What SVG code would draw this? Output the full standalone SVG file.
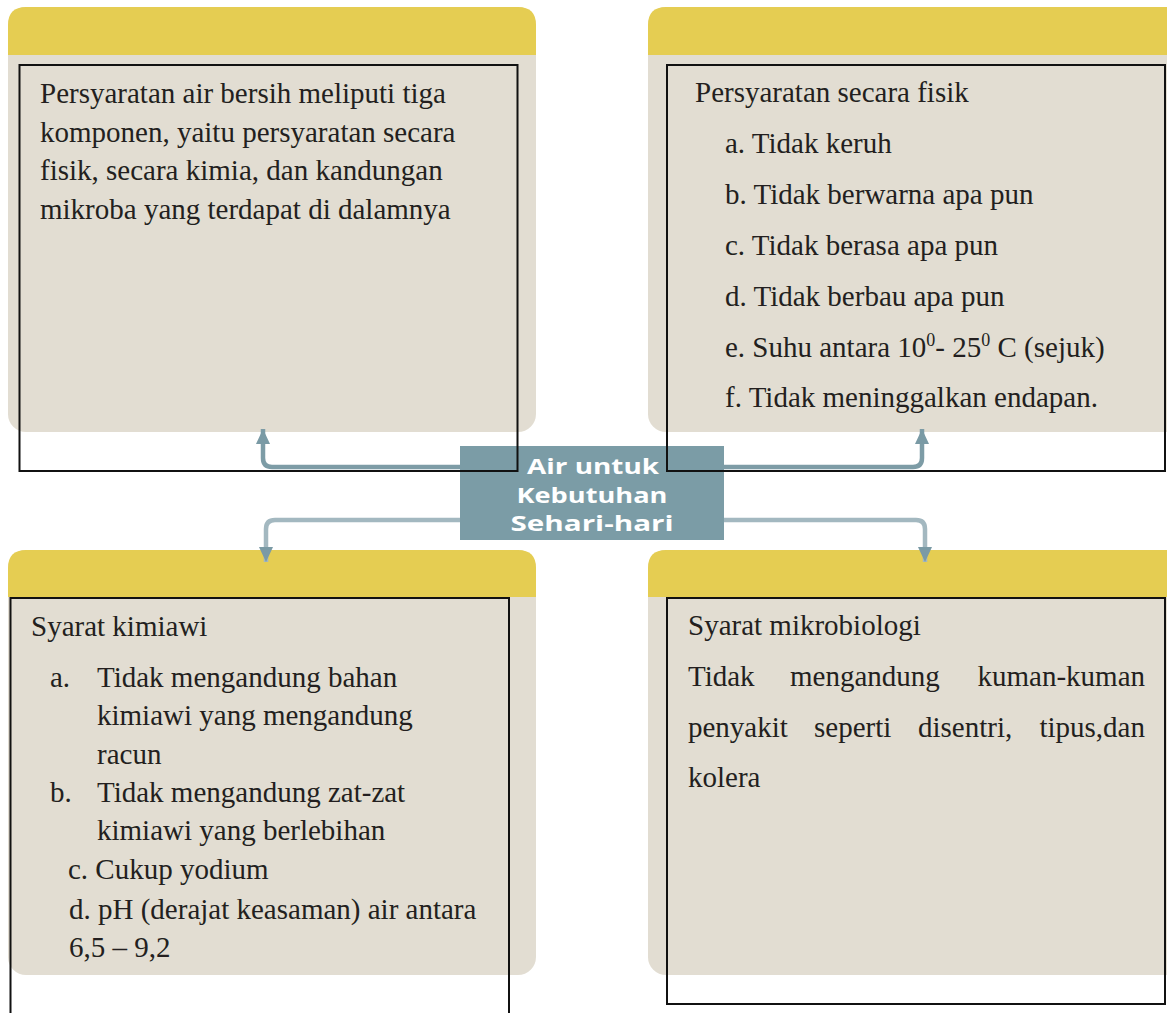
<svg xmlns="http://www.w3.org/2000/svg" width="1167" height="1013" viewBox="0 0 1167 1013">
  <style>
    .panel { fill: #e2ddd2; }
    .head { fill: #e5cd52; }
    .frame { fill: none; stroke: #111111; stroke-width: 2; }
    .t { font-family: "Liberation Serif", "Times New Roman", serif; font-size: 29px; fill: #231f20; }
    .c { font-family: "Open Sans", "DejaVu Sans", sans-serif; font-weight: 700; font-size: 21px; fill: #ffffff; text-anchor: middle; }
    .conn { fill: none; stroke-width: 4.5; stroke-linecap: butt; }
  </style>
  <defs>
    <marker id="arr" markerUnits="userSpaceOnUse" markerWidth="16" markerHeight="15" refX="15" refY="7" orient="auto">
      <path d="M0,0 L15,7 L0,14 z" fill="#7a9aa5"/>
    </marker>
  </defs>
  <rect width="1167" height="1013" fill="#ffffff"/>

  <!-- panels -->
  <g id="panel-tl">
    <rect class="panel" x="8" y="7" width="528" height="425" rx="18"/>
    <path class="head" d="M8,55 V25 Q8,7 26,7 H518 Q536,7 536,25 V55 z"/>
  </g>
  <g id="panel-tr">
    <rect class="panel" x="648" y="7" width="540" height="425" rx="18"/>
    <path class="head" d="M648,55 V25 Q648,7 666,7 H1188 V55 z"/>
  </g>
  <g id="panel-bl">
    <rect class="panel" x="8" y="550" width="528" height="425" rx="18"/>
    <path class="head" d="M8,597 V568 Q8,550 26,550 H518 Q536,550 536,568 V597 z"/>
  </g>
  <g id="panel-br">
    <rect class="panel" x="648" y="550" width="540" height="425" rx="18"/>
    <path class="head" d="M648,597 V568 Q648,550 666,550 H1188 V597 z"/>
  </g>

  <!-- connectors -->
  <g id="connectors">
    <path class="conn" stroke="#7d9ca6" d="M462,467 H272 Q263,467 263,458 V429" marker-end="url(#arr)"/>
    <path class="conn" stroke="#7d9ca6" d="M722,467 H913 Q922,467 922,458 V429" marker-end="url(#arr)"/>
    <path class="conn" stroke="#a3b8c0" d="M462,520 H275 Q266,520 266,529 V562" marker-end="url(#arr)"/>
    <path class="conn" stroke="#a3b8c0" d="M722,520 H916 Q925,520 925,529 V562" marker-end="url(#arr)"/>
  </g>

  <!-- center node -->
  <g id="center">
    <rect x="460" y="446" width="264" height="94" fill="#7b9ca6"/>
    <text class="c" x="593" y="474" textLength="132" lengthAdjust="spacingAndGlyphs">Air untuk</text>
    <text class="c" x="592" y="503" textLength="151" lengthAdjust="spacingAndGlyphs">Kebutuhan</text>
    <text class="c" x="592" y="531" textLength="163" lengthAdjust="spacingAndGlyphs">Sehari-hari</text>
  </g>

  <!-- text boxes -->
  <g id="box-tl">
    <rect class="frame" x="19.5" y="65" width="498" height="406"/>
    <text class="t" x="40" y="103">Persyaratan air bersih meliputi tiga</text>
    <text class="t" x="40" y="141.5">komponen, yaitu persyaratan secara</text>
    <text class="t" x="40" y="180">fisik, secara kimia, dan kandungan</text>
    <text class="t" x="40" y="218.5">mikroba yang terdapat di dalamnya</text>
  </g>

  <g id="box-tr">
    <rect class="frame" x="667" y="65" width="498" height="406"/>
    <text class="t" x="695" y="102">Persyaratan secara fisik</text>
    <text class="t" x="725" y="153">a. Tidak keruh</text>
    <text class="t" x="725" y="204">b. Tidak berwarna apa pun</text>
    <text class="t" x="725" y="255">c. Tidak berasa apa pun</text>
    <text class="t" x="725" y="305.5">d. Tidak berbau apa pun</text>
    <text class="t" x="725" y="356.5">e. Suhu antara 10<tspan dy="-11" font-size="18">0</tspan><tspan dy="11">- 25</tspan><tspan dy="-11" font-size="18">0</tspan><tspan dy="11"> C (sejuk)</tspan></text>
    <text class="t" x="725" y="407">f. Tidak meninggalkan endapan.</text>
  </g>

  <g id="box-bl">
    <rect class="frame" x="10.5" y="598" width="498.5" height="420"/>
    <text class="t" x="31" y="636">Syarat kimiawi</text>
    <text class="t" x="50" y="687">a.</text>
    <text class="t" x="97" y="687">Tidak mengandung bahan</text>
    <text class="t" x="97" y="725">kimiawi yang mengandung</text>
    <text class="t" x="97" y="764">racun</text>
    <text class="t" x="50" y="802">b.</text>
    <text class="t" x="97" y="802">Tidak mengandung zat-zat</text>
    <text class="t" x="97" y="840">kimiawi yang berlebihan</text>
    <text class="t" x="68" y="879">c. Cukup yodium</text>
    <text class="t" x="69" y="918.5">d. pH (derajat keasaman) air antara</text>
    <text class="t" x="69" y="957">6,5 – 9,2</text>
  </g>

  <g id="box-br">
    <rect class="frame" x="667" y="598" width="498" height="406"/>
    <text class="t" x="688" y="635">Syarat mikrobiologi</text>
    <text class="t" x="688" y="686">Tidak</text>
    <text class="t" x="790" y="686">mengandung</text>
    <text class="t" x="1145" y="686" text-anchor="end">kuman-kuman</text>
    <text class="t" x="688" y="736.5">penyakit</text>
    <text class="t" x="814" y="736.5">seperti</text>
    <text class="t" x="918" y="736.5">disentri,</text>
    <text class="t" x="1145" y="736.5" text-anchor="end">tipus,dan</text>
    <text class="t" x="688" y="786.5">kolera</text>
  </g>
</svg>
